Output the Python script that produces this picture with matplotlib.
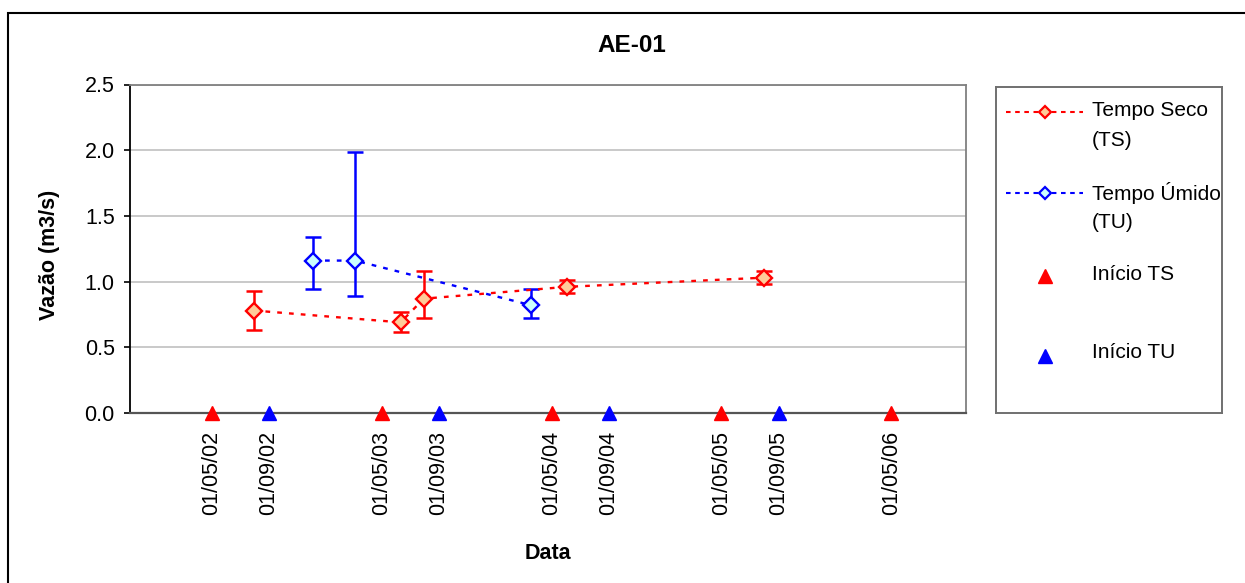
import numpy as np
import pandas as pd
import matplotlib
matplotlib.use("Agg")
import matplotlib.pyplot as plt
import matplotlib.dates as mdates
from matplotlib.patches import Rectangle
from matplotlib.lines import Line2D

plt.rcParams['font.family'] = ['Liberation Sans', 'DejaVu Sans']

# --- dados ---
ts_datas = ['2002-07-30', '2003-06-11', '2003-07-31', '2004-06-02', '2005-08-01']
ts_vazao = [0.78, 0.69, 0.87, 0.96, 1.03]
ts_min = [0.63, 0.62, 0.72, 0.91, 0.98]
ts_max = [0.93, 0.77, 1.08, 1.01, 1.08]

tu_datas = ['2002-12-05', '2003-03-05', '2004-03-18']
tu_vazao = [1.16, 1.16, 0.82]
tu_min = [0.94, 0.89, 0.72]
tu_max = [1.34, 1.99, 0.94]

inicio_ts = ['2002-05-01', '2003-05-01', '2004-05-01', '2005-05-01', '2006-05-01']
inicio_tu = ['2002-09-01', '2003-09-01', '2004-09-01', '2005-09-01']

titulo = "AE-01"

W, H = 1245, 583
FS = 15.5

def datas(lista):
    return mdates.date2num(pd.to_datetime(lista))

ts_x, tu_x = datas(ts_datas), datas(tu_datas)
its_x, itu_x = datas(inicio_ts), datas(inicio_tu)
ts_y, tu_y = np.array(ts_vazao), np.array(tu_vazao)

fig = plt.figure(figsize=(W / 100, H / 100), dpi=100)
ax = fig.add_axes([130 / W, (H - 413) / H, 836 / W, 328.5 / H])

# barras de erro (min/max) e séries
ax.errorbar(ts_x, ts_y, yerr=[ts_y - np.array(ts_min), np.array(ts_max) - ts_y], fmt='none',
            ecolor='red', elinewidth=1.8, capsize=5.5, capthick=1.8, zorder=3)
ax.errorbar(tu_x, tu_y, yerr=[tu_y - np.array(tu_min), np.array(tu_max) - tu_y], fmt='none',
            ecolor='blue', elinewidth=1.8, capsize=5.5, capthick=1.8, zorder=3)
ax.plot(ts_x, ts_y, ls=(0, (2, 3)), color='red', lw=1.7, zorder=4)
ax.plot(tu_x, tu_y, ls=(0, (2, 3)), color='blue', lw=1.7, zorder=4)
ax.plot(ts_x, ts_y, ls='none', marker='D', ms=8.5, mfc='#ffcc99', mec='red', mew=1.7, zorder=5)
ax.plot(tu_x, tu_y, ls='none', marker='D', ms=8.5, mfc='#ccffff', mec='blue', mew=1.7, zorder=5)

ax.plot(its_x, np.zeros(len(its_x)), ls='none', marker='^', ms=9.5, color='red', clip_on=False, zorder=6)
ax.plot(itu_x, np.zeros(len(itu_x)), ls='none', marker='^', ms=9.5, color='blue', clip_on=False, zorder=6)

# eixos
ax.set_xlim(datas(['2001-11-06'])[0], datas(['2006-10-09'])[0])
ax.set_ylim(0, 2.5)
ax.set_yticks(np.arange(0, 2.51, 0.5))
ax.yaxis.set_major_formatter(matplotlib.ticker.FormatStrFormatter('%.1f'))
ticks_x = np.sort(np.concatenate([its_x, itu_x]))
ax.set_xticks(ticks_x)
ax.xaxis.set_major_formatter(mdates.DateFormatter('%d/%m/%y'))
ax.tick_params(axis='x', length=0, pad=13, labelsize=FS, labelrotation=90)
ax.tick_params(axis='y', length=4, width=1.2, pad=7, labelsize=FS, direction='out')
ax.yaxis.grid(True, color='#c0c0c0', lw=1.2)
ax.set_axisbelow(True)
ax.spines['left'].set_color('black')
ax.spines['left'].set_linewidth(1.3)
ax.spines['bottom'].set_color('#555555')
ax.spines['bottom'].set_linewidth(1.6)
for s in ('top', 'right'):
    ax.spines[s].set_color('#808080')
    ax.spines[s].set_linewidth(1.3)

ax.set_xlabel("Data", fontsize=FS, fontweight='bold')
ax.xaxis.set_label_coords(0.5, (413 - 543) / 328.5)
ax.set_ylabel("Vazão (m3/s)", fontsize=FS, fontweight='bold')
ax.yaxis.set_label_coords((60 - 130) / 836, (413 - 255) / 328.5)

fig.text(632 / W, 1 - 46 / H, titulo, ha='center', va='center', fontsize=17.5, fontweight='bold')

# legenda em caixa própria
lg = fig.add_axes([996 / W, (H - 413) / H, 226 / W, 326 / H])
lg.set_xlim(996, 1222)
lg.set_ylim(413, 87)
lg.set_xticks([])
lg.set_yticks([])
for s in lg.spines.values():
    s.set_color('#707070')
    s.set_linewidth(1.4)

FL = 15
amostras = [
    dict(y=112, linhas=[(111, "Tempo Seco"), (140, "(TS)")], cor='red', mfc='#ffcc99', linha=True),
    dict(y=193, linhas=[(193, "Tempo Úmido"), (222, "(TU)")], cor='blue', mfc='#ccffff', linha=True),
    dict(y=276, linhas=[(274, "Início TS")], cor='red', mfc='red', linha=False),
    dict(y=356, linhas=[(353, "Início TU")], cor='blue', mfc='blue', linha=False),
]
for a in amostras:
    if a['linha']:
        lg.add_line(Line2D([1006, 1083], [a['y'], a['y']], color=a['cor'], lw=1.5, ls=(0, (2.2, 2.2))))
        lg.add_line(Line2D([1045], [a['y']], ls='none', marker='D', ms=6.5, mfc=a['mfc'], mec=a['cor'], mew=1.6))
    else:
        lg.add_line(Line2D([1045], [a['y']], ls='none', marker='^', ms=9.5, color=a['cor']))
    for yy, txt in a['linhas']:
        lg.text(1092, yy, txt, fontsize=FL, ha='left', va='center')

# moldura externa do gráfico
fig.patches.append(Rectangle((8 / W, -0.2), 2, (H - 13) / H + 0.2, transform=fig.transFigure,
                             fill=False, ec='black', lw=1.5))

fig.savefig("out.png", dpi=100)
